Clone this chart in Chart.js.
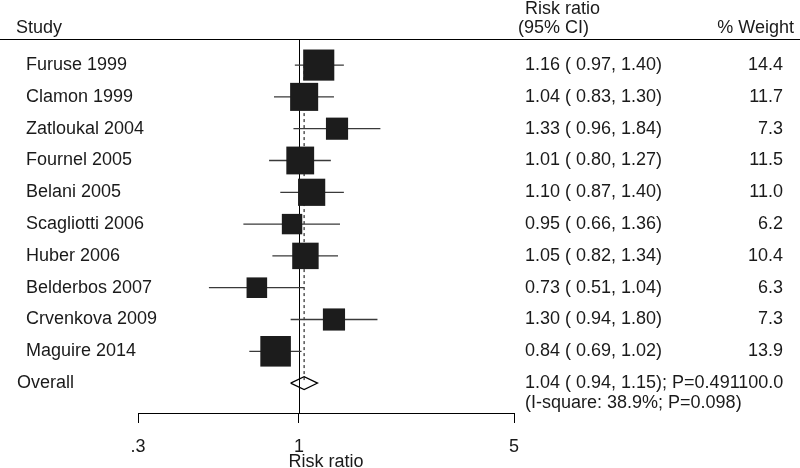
<!DOCTYPE html>
<html>
<head>
<meta charset="utf-8">
<script src="https://cdn.jsdelivr.net/npm/chart.js@4"></script>
<style>
  html, body { margin:0; padding:0; background:#fff; }
  canvas { display:block; }
</style>
</head>
<body>
<canvas id="chart" width="800" height="468"></canvas>
<script>
// study data
const studies = ['Furuse 1999','Clamon 1999','Zatloukal 2004','Fournel 2005','Belani 2005',
  'Scagliotti 2006','Huber 2006','Belderbos 2007','Crvenkova 2009','Maguire 2014'];
const rr    = [1.16, 1.04, 1.33, 1.01, 1.10, 0.95, 1.05, 0.73, 1.30, 0.84];
const lower = [0.97, 0.83, 0.96, 0.80, 0.87, 0.66, 0.82, 0.51, 0.94, 0.69];
const upper = [1.40, 1.30, 1.84, 1.27, 1.40, 1.36, 1.34, 1.04, 1.80, 1.02];
const weight = [14.4, 11.7, 7.3, 11.5, 11.0, 6.2, 10.4, 6.3, 7.3, 13.9];

const overall = { label:'Overall', rr:1.04, lower:0.94, upper:1.15 };
const overallText = ['1.04 ( 0.94, 1.15); P=0.491100.0', '(I-square: 38.9%; P=0.098)'];

const tickVals = [0.3, 1, 5];
const tickLabels = ['.3', '1', '5'];

const FONT = '"Liberation Sans", Arial, Helvetica, sans-serif';
const overallRow = studies.length;

const fmt = v => v.toFixed(2);

// build datasets
const squares = rr.map((v, i) => ({ x:v, y:i }));
const squareRadius = weight.map(w => 8.2 * Math.sqrt(w) / Math.SQRT2);

const ciData = [];
rr.forEach((v, i) => {
  ciData.push({ x:lower[i], y:i }, { x:upper[i], y:i }, { x:null, y:null });
});

const dh = 0.2;
const diamond = [
  { x:overall.lower, y:overallRow },
  { x:overall.rr, y:overallRow - dh },
  { x:overall.upper, y:overallRow },
  { x:overall.rr, y:overallRow + dh },
  { x:overall.lower, y:overallRow }
];

const refLines = {
  id:'refLines',
  beforeDatasetsDraw(chart){
    const { ctx, chartArea, scales:{ x, y } } = chart;
    ctx.save();
    // null line at 1
    const x1 = x.getPixelForValue(1);
    ctx.strokeStyle = '#000';
    ctx.lineWidth = 1;
    ctx.beginPath();
    ctx.moveTo(Math.round(x1) + 0.5, chartArea.top);
    ctx.lineTo(Math.round(x1) + 0.5, chartArea.bottom);
    ctx.stroke();
    // overall estimate dashed line
    const xo = x.getPixelForValue(overall.rr);
    ctx.strokeStyle = '#555';
    ctx.lineWidth = 1.5;
    ctx.setLineDash([3, 3]);
    ctx.beginPath();
    ctx.moveTo(xo, y.getPixelForValue(0));
    ctx.lineTo(xo, y.getPixelForValue(overallRow));
    ctx.stroke();
    ctx.restore();
  }
};

const textCols = {
  id:'textCols',
  afterDraw(chart){
    const { ctx, chartArea, scales:{ y } } = chart;
    ctx.save();
    ctx.fillStyle = '#1a1a1a';
    ctx.font = '18px ' + FONT;
    ctx.textBaseline = 'middle';

    // header
    ctx.textAlign = 'left';
    ctx.fillText('Study', 16, 28);
    ctx.fillText('Risk ratio', 525, 9);
    ctx.fillText('(95% CI)', 518, 28);
    ctx.textAlign = 'right';
    ctx.fillText('% Weight', 794, 28);

    ctx.strokeStyle = '#000';
    ctx.lineWidth = 1;
    ctx.beginPath();
    ctx.moveTo(0, chartArea.top + 0.5);
    ctx.lineTo(800, chartArea.top + 0.5);
    ctx.stroke();

    // rows
    studies.forEach((s, i) => {
      const py = y.getPixelForValue(i);
      ctx.textAlign = 'left';
      ctx.fillText(s, 26, py);
      ctx.fillText(`${fmt(rr[i])} ( ${fmt(lower[i])}, ${fmt(upper[i])})`, 525, py);
      ctx.textAlign = 'right';
      ctx.fillText(weight[i].toFixed(1), 783, py);
    });

    const po = y.getPixelForValue(overallRow);
    ctx.textAlign = 'left';
    ctx.fillText(overall.label, 17, po);
    ctx.fillText(overallText[0], 525, po);
    ctx.fillText(overallText[1], 525, po + 20);
    ctx.restore();
  }
};

new Chart(document.getElementById('chart'), {
  type:'scatter',
  data:{
    datasets:[
      { data:squares, pointStyle:'rect', pointRadius:squareRadius, pointHoverRadius:squareRadius,
        backgroundColor:'#1c1c1c', borderWidth:0, order:0, clip:false },
      { data:ciData, showLine:true, spanGaps:false, pointRadius:0, borderColor:'#3a3a3a',
        borderWidth:1.3, order:1, clip:false },
      { data:diamond, showLine:true, pointRadius:0, borderColor:'#000', borderWidth:1.2,
        order:1, clip:false }
    ]
  },
  options:{
    responsive:false,
    animation:false,
    devicePixelRatio:1,
    layout:{ padding:{ left:138, right:286, top:39, bottom:0 } },
    plugins:{ legend:{ display:false }, tooltip:{ enabled:false } },
    scales:{
      x:{
        type:'logarithmic',
        min:0.3, max:5,
        afterBuildTicks(axis){ axis.ticks = tickVals.map(v => ({ value:v })); },
        afterFit(axis){ axis.height = 55; },
        ticks:{
          autoSkip:false, maxRotation:0, padding:13, color:'#1a1a1a',
          font:{ family:FONT, size:18 },
          callback(v){ const k = tickVals.indexOf(v); return k >= 0 ? tickLabels[k] : ''; }
        },
        grid:{ drawOnChartArea:false, drawTicks:true, tickLength:10, color:'#000', tickWidth:1 },
        border:{ display:true, color:'#000', width:1 },
        title:{ display:true, text:'Risk ratio', color:'#1a1a1a',
          font:{ family:FONT, size:18, lineHeight:0.7 }, padding:{ top:0, bottom:0 } }
      },
      y:{
        type:'linear', reverse:true, min:-0.82, max:10.94, display:false
      }
    }
  },
  plugins:[refLines, textCols]
});
</script>
</body>
</html>
